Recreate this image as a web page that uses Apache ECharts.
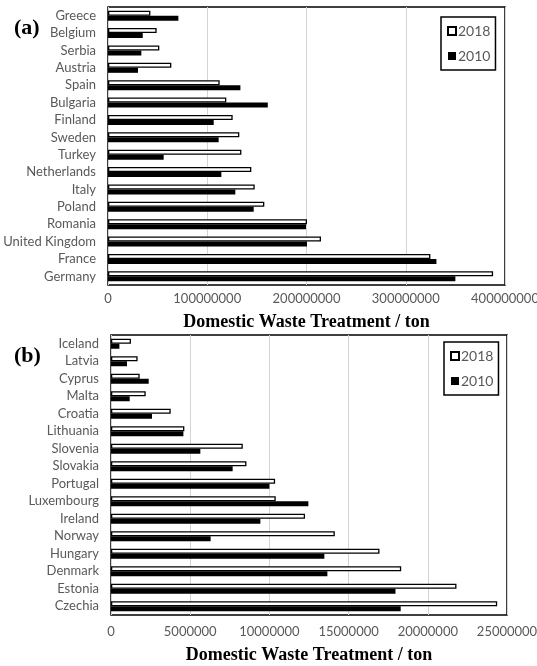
<!DOCTYPE html>
<html>
<head>
<meta charset="utf-8">
<script src="https://cdn.jsdelivr.net/npm/echarts@6/dist/echarts.min.js"></script>
<style>
  html, body { margin: 0; padding: 0; background: #fff; }
  #chart { width: 537px; height: 666px; }
</style>
</head>
<body>
<div id="chart"></div>
<script>
// Panel (a): larger producers, listed bottom-to-top
const countriesA = ['Germany', 'France', 'United Kingdom', 'Romania', 'Poland', 'Italy', 'Netherlands', 'Turkey',
  'Sweden', 'Finland', 'Bulgaria', 'Spain', 'Austria', 'Serbia', 'Belgium', 'Greece'];
const a2018 = [388000000, 324800000, 214600000, 200500000, 157500000, 147800000, 144400000, 134400000,
  132300000, 125600000, 119200000, 112500000, 63800000, 51700000, 49000000, 42700000];
const a2010 = [350000000, 330900000, 200500000, 199500000, 146800000, 128300000, 114200000, 56100000,
  111500000, 106500000, 161000000, 133400000, 30200000, 33600000, 35000000, 70900000];
const ticksA = [0, 100000000, 200000000, 300000000, 400000000];

// Panel (b): smaller producers, listed bottom-to-top
const countriesB = ['Czechia', 'Estonia', 'Denmark', 'Hungary', 'Norway', 'Ireland', 'Luxembourg', 'Portugal',
  'Slovakia', 'Slovenia', 'Lithuania', 'Croatia', 'Malta', 'Cyprus', 'Latvia', 'Iceland'];
const b2018 = [24380000, 21810000, 18320000, 16950000, 14130000, 12250000, 10400000, 10360000,
  8550000, 8320000, 4630000, 3770000, 2190000, 1810000, 1680000, 1260000];
const b2010 = [18290000, 17960000, 13660000, 13470000, 6290000, 9430000, 12460000, 10000000,
  7680000, 5640000, 4570000, 2590000, 1180000, 2380000, 1010000, 530000];
const ticksB = [0, 5000000, 10000000, 15000000, 20000000, 25000000];

const axisTitle = 'Domestic Waste Treatment / ton';
const grey = '#595959';
const labelFont = 'Lato, "Open Sans", sans-serif';
const serif = '"Liberation Serif", "DejaVu Serif", serif';

function valueAxis(gridIndex, ticks, labelMargin, nameGap) {
  return {
    type: 'value', gridIndex,
    min: ticks[0], max: ticks[ticks.length - 1], interval: ticks[1] - ticks[0],
    axisLine: { show: false }, axisTick: { show: false },
    splitLine: { show: true, lineStyle: { color: '#d4d4d4', width: 1 } },
    axisLabel: { color: grey, fontFamily: labelFont, fontSize: 13, margin: labelMargin, formatter: v => String(v) },
    name: axisTitle, nameLocation: 'middle', nameGap,
    nameTextStyle: { fontFamily: serif, fontWeight: 'bold', fontSize: 18, color: '#000' }
  };
}
function catAxis(gridIndex, cats) {
  return {
    type: 'category', gridIndex, data: cats,
    axisLine: { show: false }, axisTick: { show: false },
    axisLabel: { color: grey, fontFamily: labelFont, fontSize: 13, margin: 12 }
  };
}
function bars(name, data, idx, hollow) {
  return {
    name, type: 'bar', xAxisIndex: idx, yAxisIndex: idx, data,
    barWidth: 5, barGap: '0%',
    itemStyle: hollow
      ? { color: '#fff', borderColor: '#000', borderWidth: 1.3 }
      : { color: '#000' },
    emphasis: { disabled: true }
  };
}
function legendAt(left, top) {
  return {
    left, top, orient: 'vertical', data: ['2018', '2010'],
    icon: 'rect', itemWidth: 8, itemHeight: 8, itemGap: 11,
    backgroundColor: '#fff', borderColor: '#000', borderWidth: 1.5,
    padding: [7, 5, 7, 6],
    textStyle: { color: grey, fontFamily: labelFont, fontSize: 14, padding: [0, 0, 0, -3] }
  };
}
function gridAt(left, top, width, height) {
  return {
    left, top, width, height, outerBoundsMode: 'none', containLabel: false,
    show: true, borderColor: '#000', borderWidth: 1.5, backgroundColor: 'transparent'
  };
}

const chart = echarts.init(document.getElementById('chart'), null, { renderer: 'canvas' });
chart.setOption({
  animation: false,
  backgroundColor: '#fff',
  title: [
    { text: '(a)', left: 9, top: 12, textStyle: { fontFamily: serif, fontWeight: 'bold', fontSize: 22, color: '#000' } },
    { text: '(b)', left: 9, top: 340, textStyle: { fontFamily: serif, fontWeight: 'bold', fontSize: 22, color: '#000' } }
  ],
  grid: [gridAt(108, 7, 397, 278), gridAt(111, 335, 396, 280)],
  xAxis: [valueAxis(0, ticksA, 7, 28), valueAxis(1, ticksB, 10, 31)],
  yAxis: [catAxis(0, countriesA), catAxis(1, countriesB)],
  legend: [legendAt(441, 17), legendAt(444, 342)],
  series: [
    bars('2018', a2018, 0, true),
    bars('2010', a2010, 0, false),
    bars('2018', b2018, 1, true),
    bars('2010', b2010, 1, false)
  ]
});
</script>
</body>
</html>
